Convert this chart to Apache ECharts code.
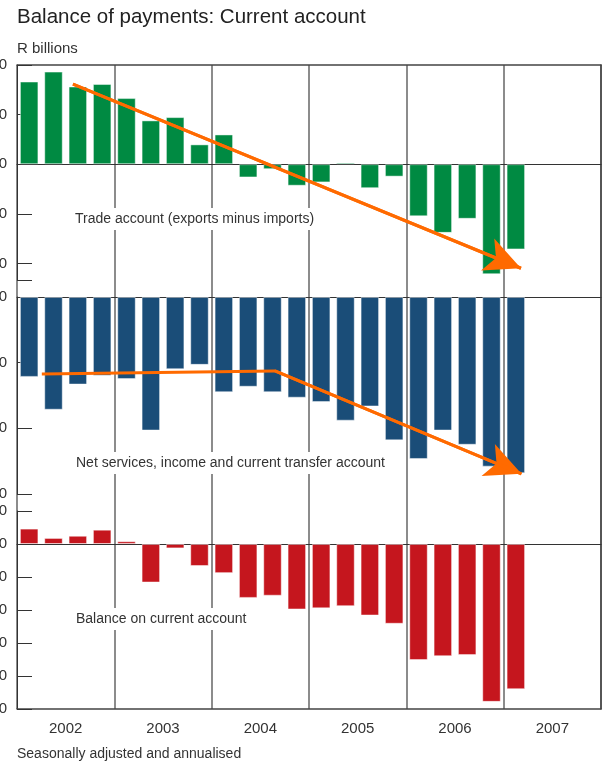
<!DOCTYPE html>
<html>
<head>
<meta charset="utf-8">
<script src="https://cdn.jsdelivr.net/npm/echarts@6/dist/echarts.min.js"></script>
<style>
  html, body { margin: 0; padding: 0; background: #fff; }
  #chart { width: 604px; height: 763px; }
</style>
</head>
<body>
<div id="chart"></div>
<script>
// ---- Data (R billions, seasonally adjusted and annualised) ----
const years = ['2002', '2003', '2004', '2005', '2006', '2007'];
const quarterNames = ['Q1', 'Q2', 'Q3', 'Q4'];

const tradeAccount = [50, 56, 47, 48.5, 40, 26.5, 28.5, 12, 18, -8, -3, -13, -11, 1, -14.5, -7.5, -31.5, -41.5, -33, -66.5, -51.5];
const servicesAccount = [-36.5, -51.5, -40, -36, -37.5, -61, -33, -31, -43.5, -41, -43.5, -46, -48, -56.5, -50, -65.5, -74, -61, -67.5, -77.5, -80.5];
const currentBalance = [14, 5.5, 7.5, 13, 2.5, -35, -4, -20, -26.5, -49, -47, -59.5, -58.5, -56.5, -65, -72.5, -105.5, -102, -101, -143.5, -132];

const tradeTicks = [60, 30, 0, -30, -60];
const servicesTicks = [0, -30, -60, -90];
const balanceTicks = [30, 0, -30, -60, -90, -120, -150];

// Trend arrows (x in quarters from start of 2002, y in R billions)
const tradeArrow = [[2.3, 48.5], [20.71, -62.9]];
const servicesArrow = [[1.02, -35.2], [10.6, -33.8], [20.73, -80.8]];

// ---- Build ----
const quarters = [];
years.forEach(y => quarterNames.forEach(q => quarters.push(y + q)));
const yearCenters = years.map((y, i) => i * 4 + 2);

const FONT = "'Liberation Sans', Arial, Helvetica, sans-serif";
const TXT = '#333';
const AX = '#333';
const ORANGE = '#ff6a00';

const L = 17, R = 3;

function catAxis(grid) {
  return {
    type: 'category', gridIndex: grid, data: quarters, boundaryGap: true,
    axisLine: { show: true, onZero: true, lineStyle: { color: AX, width: 1 } },
    axisTick: { show: false }, axisLabel: { show: false }, splitLine: { show: false }
  };
}
function hiddenVal(grid) {
  return { type: 'value', gridIndex: grid, min: 0, max: 24, show: false };
}
function valAxis(grid, min, max, labels, endVal) {
  return {
    type: 'value', gridIndex: grid, min: min, max: max,
    axisLine: { show: true, onZero: false, lineStyle: { color: AX, width: 1 } },
    axisTick: { show: true, inside: true, length: 15, lineStyle: { color: AX, width: 1 },
      customValues: labels.concat(endVal == null ? [] : [endVal]) },
    axisLabel: { show: true, customValues: labels, margin: 10, color: TXT, fontSize: 15, fontFamily: FONT },
    splitLine: { show: false }
  };
}
function bars(xi, yi, data, color, border) {
  return {
    type: 'bar', xAxisIndex: xi, yAxisIndex: yi, data: data, barWidth: '76%',
    itemStyle: { color: color, borderColor: border, borderWidth: 1 }, silent: true, z: 3
  };
}
function arrow(xi, yi, pts) {
  const n = pts.length;
  return {
    type: 'line', xAxisIndex: xi, yAxisIndex: yi, data: pts, showSymbol: false, symbol: 'none',
    lineStyle: { color: ORANGE, width: 3 }, z: 10, silent: true,
    markLine: {
      silent: true, animation: false, symbol: ['none', 'arrow'], symbolSize: [26, 36],
      label: { show: false },
      lineStyle: { color: ORANGE, width: 3, type: 'solid' },
      emphasis: { disabled: true },
      data: [[{ coord: pts[n - 2] }, { coord: pts[n - 1] }]]
    }
  };
}
function grid(opts) {
  return Object.assign({ left: L, right: R, outerBoundsMode: 'none', containLabel: false }, opts);
}

const chart = echarts.init(document.getElementById('chart'), null, { renderer: 'canvas' });
chart.setOption({
  animation: false,
  backgroundColor: '#fff',
  textStyle: { fontFamily: FONT },
  grid: [
    grid({ top: 65, bottom: 54 }),
    grid({ top: 65, height: 215 }),
    grid({ top: 297, height: 197 }),
    grid({ top: 511, height: 198 })
  ],
  xAxis: [
    { type: 'value', gridIndex: 0, min: 0, max: 24, interval: 4, position: 'bottom',
      axisLine: { show: true, onZero: false, lineStyle: { color: '#444', width: 1.5 } },
      axisTick: { show: false },
      axisLabel: { show: true, customValues: yearCenters, margin: 12, color: TXT, fontSize: 15, fontFamily: FONT,
        formatter: v => years[Math.round((v - 2) / 4)] },
      splitLine: { show: true, lineStyle: { color: '#666', width: 1.5 } } },
    { type: 'value', gridIndex: 0, min: 0, max: 24, position: 'top',
      axisLine: { show: true, onZero: false, lineStyle: { color: '#444', width: 1.5 } },
      axisTick: { show: false }, axisLabel: { show: false }, splitLine: { show: false } },
    catAxis(1), hiddenVal(1),
    catAxis(2), hiddenVal(2),
    catAxis(3)
  ],
  yAxis: [
    { type: 'value', gridIndex: 0, min: 0, max: 1, position: 'right',
      axisLine: { show: true, onZero: false, lineStyle: { color: '#444', width: 1.5 } },
      axisTick: { show: false }, axisLabel: { show: false }, splitLine: { show: false } },
    valAxis(1, -70, 60, tradeTicks, -70),
    valAxis(2, -90, 0, servicesTicks, null),
    valAxis(3, -150, 30, balanceTicks, null)
  ],
  series: [
    { type: 'line', xAxisIndex: 0, yAxisIndex: 0, data: [], silent: true },
    bars(2, 1, tradeAccount, '#008a42', 'rgba(255,255,255,0.45)'),
    bars(4, 2, servicesAccount, '#1a4d78', 'rgba(255,255,255,0.45)'),
    bars(6, 3, currentBalance, '#c5161e', 'rgba(255,255,255,0.45)'),
    arrow(3, 1, tradeArrow),
    arrow(5, 2, servicesArrow)
  ],
  graphic: [
    { type: 'text', left: 17, top: 7, silent: true,
      style: { text: 'Balance of payments: Current account', font: '20.5px ' + FONT, fill: '#222' } },
    { type: 'text', left: 17, top: 41, silent: true,
      style: { text: 'R billions', font: '15px ' + FONT, fill: TXT } },
    { type: 'text', left: 17, top: 747, silent: true,
      style: { text: 'Seasonally adjusted and annualised', font: '14px ' + FONT, fill: TXT } },
    { type: 'text', left: 74, top: 208, z: 20, silent: true,
      style: { text: 'Trade account (exports minus imports)', font: '14px ' + FONT, fill: TXT,
        backgroundColor: '#fff', padding: [4, 1] } },
    { type: 'text', left: 75, top: 452, z: 20, silent: true,
      style: { text: 'Net services, income and current transfer account', font: '14px ' + FONT, fill: TXT,
        backgroundColor: '#fff', padding: [4, 1] } },
    { type: 'text', left: 75, top: 608, z: 20, silent: true,
      style: { text: 'Balance on current account', font: '14px ' + FONT, fill: TXT,
        backgroundColor: '#fff', padding: [4, 1] } }
  ]
});
</script>
</body>
</html>
